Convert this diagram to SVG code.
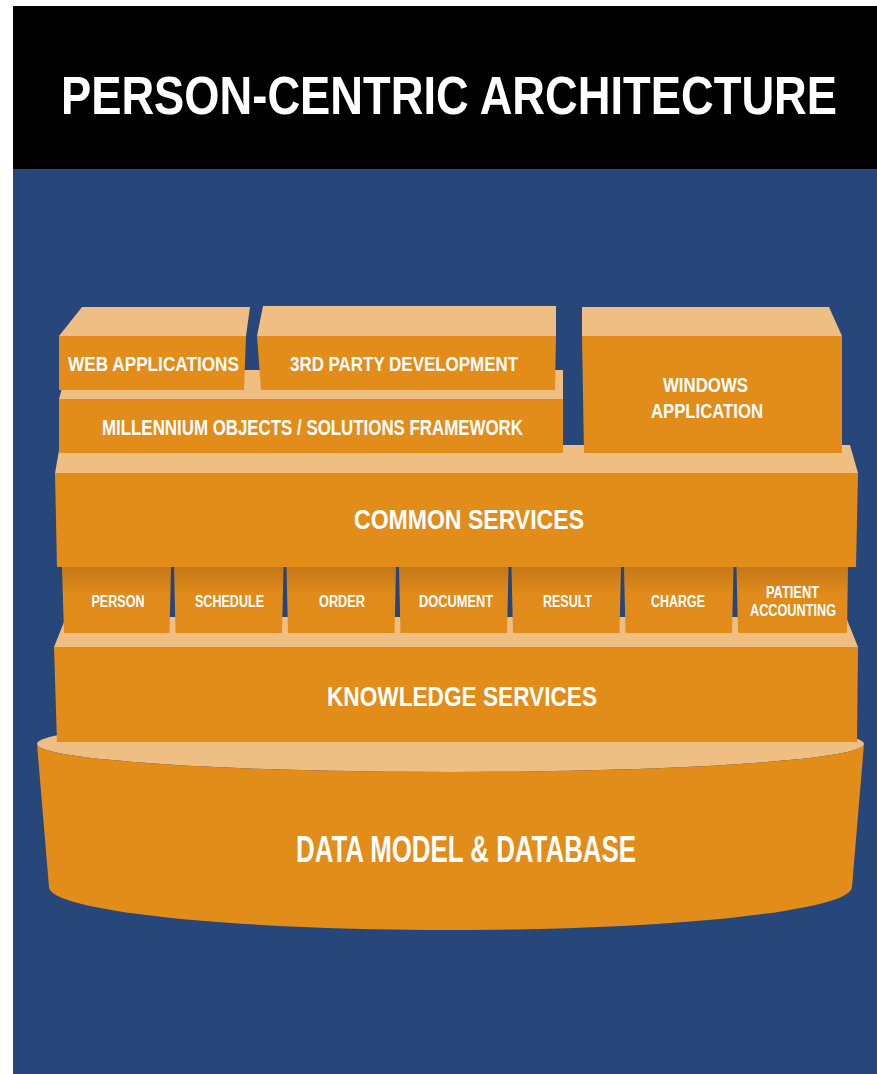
<svg xmlns="http://www.w3.org/2000/svg" width="877" height="1074" viewBox="0 0 877 1074">
  <defs>
    <linearGradient id="boxGrad" x1="0" y1="0" x2="0" y2="1">
      <stop offset="0" stop-color="#C57818"/>
      <stop offset="0.4" stop-color="#E08B1B"/>
      <stop offset="1" stop-color="#E28C1A"/>
    </linearGradient>
  </defs>
  <style>
    .front { fill: #E28C1A; }
    .top { fill: #EFBE82; }
    .box { fill: url(#boxGrad); }
    text { font-family: "Liberation Sans", Arial, sans-serif; font-weight: bold; fill: #FFFFFF; text-anchor: middle; }
    .l1 { font-size: 20px; }
    .l2 { font-size: 28px; }
    .l3 { font-size: 16px; }
  </style>
  <rect x="0" y="0" width="877" height="1074" fill="#FFFFFF"/>
  <rect x="13" y="6" width="864" height="164" fill="#000000"/>
  <rect x="13" y="169" width="864" height="905" fill="#27467A"/>
  <text transform="translate(449,114) scale(0.855,1)" x="0" y="0" font-size="53">PERSON-CENTRIC ARCHITECTURE</text>

  <g id="connectors"/>

  <g id="database">
    <ellipse class="top" cx="450.5" cy="744" rx="413.5" ry="28"/>
    <path class="front" d="M37,744 L49,887 A401.5,43 0 0 0 852,887 L864,744 A413.5,28 0 0 1 37,744 Z"/>
    <text x="466" y="862" font-size="36" textLength="340" lengthAdjust="spacingAndGlyphs">DATA MODEL &amp; DATABASE</text>
  </g>

  <g id="knowledge-services">
    <polygon class="top" points="66,617 846,617 858,647 54,647"/>
    <polygon class="front" points="54,647 858,647 857,742 57,742"/>
    <text class="l2" x="462" y="706" textLength="270" lengthAdjust="spacingAndGlyphs">KNOWLEDGE SERVICES</text>
  </g>

  <g id="person">
    <polygon class="box" points="62,567 171,567 169.5,633 64,633"/>
    <text class="l3" x="118" y="607" textLength="53" lengthAdjust="spacingAndGlyphs">PERSON</text>
  </g>
  <g id="schedule">
    <polygon class="box" points="174,567 283.5,567 282,633 175.5,633"/>
    <text class="l3" x="229.5" y="607" textLength="69" lengthAdjust="spacingAndGlyphs">SCHEDULE</text>
  </g>
  <g id="order">
    <polygon class="box" points="286.5,567 396,567 394.5,633 288,633"/>
    <text class="l3" x="342" y="607" textLength="46" lengthAdjust="spacingAndGlyphs">ORDER</text>
  </g>
  <g id="document">
    <polygon class="box" points="399,567 508.5,567 507,633 400.5,633"/>
    <text class="l3" x="456" y="607" textLength="74" lengthAdjust="spacingAndGlyphs">DOCUMENT</text>
  </g>
  <g id="result">
    <polygon class="box" points="511.5,567 621,567 619.5,633 513,633"/>
    <text class="l3" x="567.5" y="607" textLength="49" lengthAdjust="spacingAndGlyphs">RESULT</text>
  </g>
  <g id="charge">
    <polygon class="box" points="624,567 733.5,567 732,633 625.5,633"/>
    <text class="l3" x="678" y="607" textLength="54" lengthAdjust="spacingAndGlyphs">CHARGE</text>
  </g>
  <g id="patient-accounting">
    <polygon class="box" points="736.5,567 848,567 847,633 738,633"/>
    <text class="l3" x="792.5" y="598" textLength="53" lengthAdjust="spacingAndGlyphs">PATIENT</text>
    <text class="l3" x="793" y="616" textLength="86" lengthAdjust="spacingAndGlyphs">ACCOUNTING</text>
  </g>

  <g id="common-services">
    <polygon class="top" points="60,445 850,445 858,473 55,473"/>
    <polygon class="front" points="55,473 858,473 856,567 57,567"/>
    <text class="l2" x="469" y="529" textLength="230" lengthAdjust="spacingAndGlyphs">COMMON SERVICES</text>
  </g>

  <g id="millennium-objects">
    <polygon class="top" points="67,370 563,370 563,399 59,399"/>
    <polygon class="front" points="59,399 563,399 563,453 59,453"/>
    <text x="312.5" y="435" font-size="22" textLength="421" lengthAdjust="spacingAndGlyphs">MILLENNIUM OBJECTS / SOLUTIONS FRAMEWORK</text>
  </g>

  <g id="web-applications">
    <polygon class="top" points="82,307 250,307 246,336 59,336"/>
    <polygon class="front" points="59,336 246,336 244,390 59,390"/>
    <text class="l1" x="153.5" y="371" textLength="171" lengthAdjust="spacingAndGlyphs">WEB APPLICATIONS</text>
  </g>

  <g id="third-party-development">
    <polygon class="top" points="263,306 556,306 556,336 257,336"/>
    <polygon class="front" points="257,336 556,336 555,390 261,390"/>
    <text class="l1" x="404" y="371" textLength="228" lengthAdjust="spacingAndGlyphs">3RD PARTY DEVELOPMENT</text>
  </g>

  <g id="windows-application">
    <polygon class="top" points="582,307 829,307 842,336 582,336"/>
    <polygon class="front" points="582,336 842,336 842,453 584,453"/>
    <text class="l1" x="705.5" y="392" textLength="85" lengthAdjust="spacingAndGlyphs">WINDOWS</text>
    <text class="l1" x="707" y="418" textLength="112" lengthAdjust="spacingAndGlyphs">APPLICATION</text>
  </g>
</svg>
